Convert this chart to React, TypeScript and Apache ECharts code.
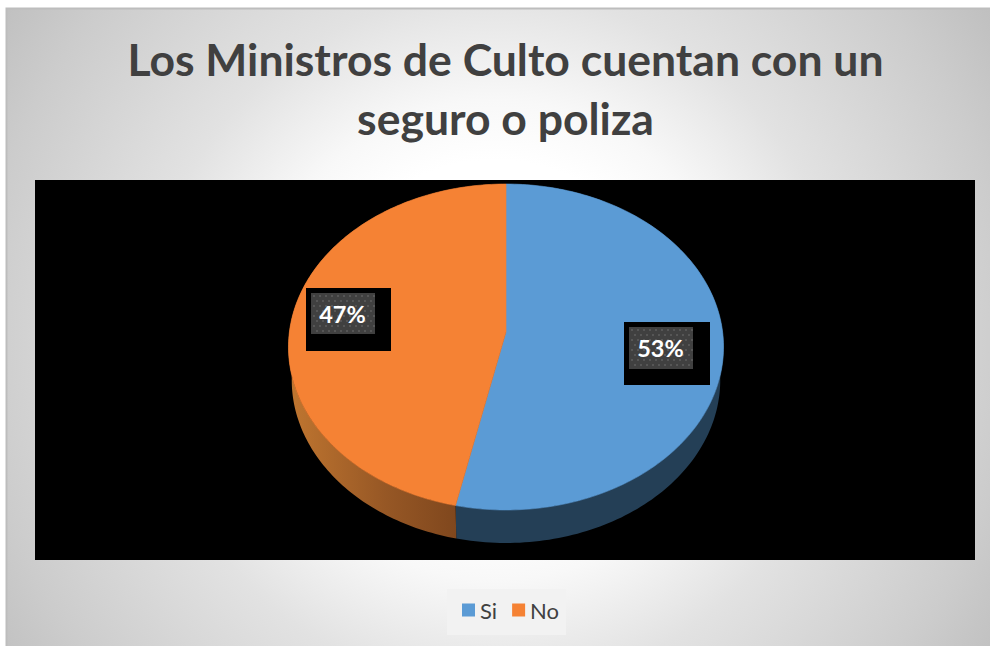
import React, { useEffect, useRef } from "react";
import * as echarts from "echarts";

const title = "Los Ministros de Culto cuentan con un\nseguro o poliza";
const categories = ["Si", "No"];
const values = [53.4, 46.6];
const labels = ["53%", "47%"];
const faceColors = ["#5B9BD5", "#F58234"];

const FONT = 'Lato, "Open Sans", sans-serif';
const CX = 506, CY = 332, A = 216.6, B = 161.6, K = 0.092, DEPTH = 33, FLOOR = 0.985;

function project(theta: number): [number, number] {
  const u = Math.sin(theta), v = -Math.cos(theta);
  const d = 1 - K * v;
  return [CX + (A * u) / d, CY + (B * v) / d];
}

const labelBoxes = [
  { bx: 624, by: 322, bw: 86, bh: 63, dx: 629, dy: 327, dw: 64, dh: 42, tx: 660.5, ty: 348 },
  { bx: 306, by: 288, bw: 85, bh: 63, dx: 311, dy: 293, dw: 64, dh: 41, tx: 342.5, ty: 314 },
];

function renderSlice(params: any, api: any) {
  const idx = params.seriesIndex;
  const total = values.reduce((a, b) => a + b, 0);
  const start = values.slice(0, idx).reduce((a, b) => a + b, 0);
  const t0 = (start / total) * Math.PI * 2;
  const t1 = ((start + api.value(0)) / total) * Math.PI * 2;
  const rim: number[][] = [];
  const N = 160;
  for (let i = 0; i <= N; i++) rim.push(project(t0 + ((t1 - t0) * i) / N));
  const wall = rim.concat(
    rim.slice().reverse().map((p) => [CX + (p[0] - CX) * FLOOR, p[1] + DEPTH])
  );
  const wallFill =
    idx === 0
      ? "#243F56"
      : new echarts.graphic.LinearGradient(0, 0, 1, 0, [
          { offset: 0, color: "#C07630" },
          { offset: 0.45, color: "#965725" },
          { offset: 1, color: "#703C18" },
        ]);
  const face = rim.concat([[CX, CY]]);
  return {
    type: "group",
    children: [
      { type: "polygon", shape: { points: wall }, style: { fill: wallFill } },
      {
        type: "polygon",
        shape: { points: face },
        style: { fill: faceColors[idx], stroke: faceColors[idx], lineWidth: 0.6 },
      },
    ],
  };
}

function labelGraphics() {
  const out: any[] = [];
  labelBoxes.forEach((b, i) => {
    out.push({ type: "rect", z: 10, shape: { x: b.bx, y: b.by, width: b.bw, height: b.bh }, style: { fill: "#000" } });
    out.push({ type: "rect", z: 10, shape: { x: b.dx, y: b.dy, width: b.dw, height: b.dh }, style: { fill: "#404040" } });
    for (let y = 2, r = 0; y < b.dh - 1; y += 5, r++) {
      for (let x = r % 2 ? 5 : 2; x < b.dw - 1; x += 6) {
        out.push({ type: "rect", z: 10, shape: { x: b.dx + x, y: b.dy + y, width: 2, height: 2 }, style: { fill: "#565656" } });
      }
    }
    out.push({
      type: "text", z: 11, x: b.tx, y: b.ty,
      style: { text: labels[i], fill: "#FFFFFF", font: `bold 23.5px ${FONT}`, textAlign: "center", textVerticalAlign: "middle" },
    });
  });
  return out;
}

export default function App() {
  const ref = useRef<HTMLDivElement>(null);
  useEffect(() => {
    document.body.style.margin = "0";
    const chart = echarts.init(ref.current!, undefined, { renderer: "svg" });
    chart.setOption({
      animation: false,
      backgroundColor: "#FFFFFF",
      title: {
        text: title,
        left: 500.5,
        top: 24,
        textAlign: "center",
        textStyle: { fontFamily: FONT, fontWeight: "bold", fontSize: 44.5, lineHeight: 59, color: "#404040" },
      },
      legend: {
        data: categories,
        left: 447,
        top: 589,
        padding: [10, 7, 14, 15],
        backgroundColor: "#F2F2F2",
        icon: "rect",
        itemWidth: 13,
        itemHeight: 13,
        itemGap: 15,
        textStyle: { fontFamily: FONT, fontSize: 22, lineHeight: 16, color: "#404040" },
      },
      graphic: [
        {
          type: "rect", z: -10,
          shape: { x: 6.5, y: 8.5, width: 990, height: 650 },
          style: {
            stroke: "#BDBDBD", lineWidth: 2,
            fill: new echarts.graphic.RadialGradient(495, 340, 600, [
              { offset: 0, color: "#FFFFFF" },
              { offset: 0.3, color: "#FFFFFF" },
              { offset: 0.4, color: "#F8F8F8" },
              { offset: 0.58, color: "#E2E2E2" },
              { offset: 0.86, color: "#CCCCCC" },
              { offset: 1, color: "#BFBFBF" },
            ], true),
          },
        },
        { type: "rect", z: -5, shape: { x: 35, y: 180, width: 940, height: 380 }, style: { fill: "#000000" } },
        ...labelGraphics(),
      ],
      series: categories.map((name, i) => ({
        type: "custom",
        name,
        coordinateSystem: "none",
        itemStyle: { color: faceColors[i] },
        data: [[values[i]]],
        renderItem: renderSlice,
        silent: true,
      })),
    });
    return () => chart.dispose();
  }, []);
  return <div ref={ref} style={{ width: 990, height: 646 }} />;
}
